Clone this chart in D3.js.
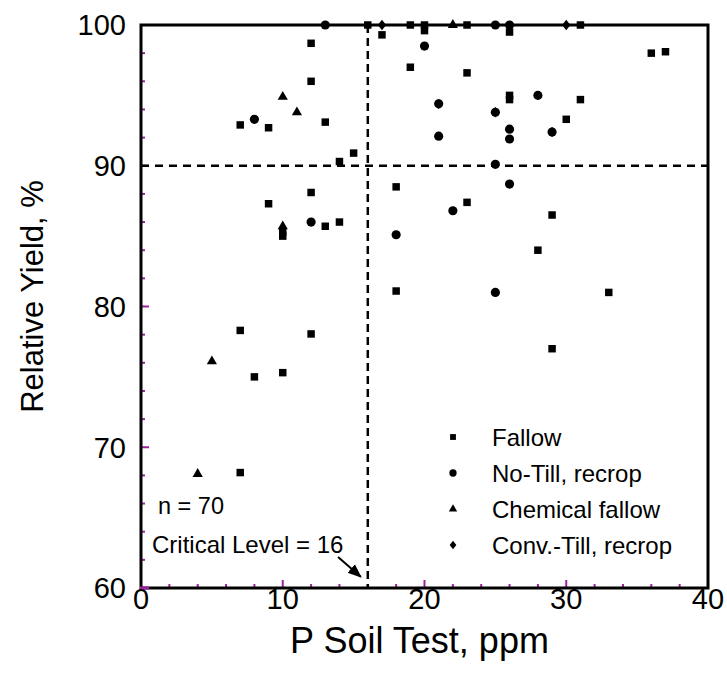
<!DOCTYPE html>
<html><head><meta charset="utf-8">
<script src="https://cdn.jsdelivr.net/npm/d3@7"></script>
<style>body{margin:0;background:#fff}text{font-family:"Liberation Sans",Arial,Helvetica,sans-serif;fill:#000}</style>
</head><body><svg id="c" width="727" height="677"></svg>
<script>
// Data: [P soil test (ppm), relative yield (%)]
const fallow = [[16,100],[17,99.3],[19,100],[20,100],[20,99.6],[12,98.7],[19,97],[12,96],[7,92.9],[9,92.7],[13,93.1],[15,90.9],[14,90.3],[18,88.5],[12,88.1],[9,87.3],[23,100],[26,99.5],[31,100],[23,96.6],[36,98],[37,98.1],[26,95],[26,94.7],[31,94.7],[30,93.3],[23,87.4],[10,85],[10,85.3],[13,85.7],[14,86],[18,81.1],[7,78.3],[12,78.05],[8,75],[10,75.3],[29,86.5],[28,84],[33,81],[29,77],[7,68.2]];
const noTill = [[13,100],[20,98.5],[8,93.3],[25,100],[26,100],[28,95],[21,94.4],[25,93.8],[26,92.6],[26,91.9],[29,92.4],[21,92.1],[25,90.1],[26,88.7],[22,86.8],[12,86],[18,85.1],[25,81]];
const chemFallow = [[10,94.9],[11,93.8],[22,100],[10,85.7],[5,76.1],[4,68.1]];
const convTill = [[17,100],[30,100],[21,94.4],[25,93.8],[29,92.4]];
const seriesNames = ["Fallow","No-Till, recrop","Chemical fallow","Conv.-Till, recrop"];
const xTicks = [0,10,20,30,40];
const yTicks = [60,70,80,90,100];
const criticalLevel = 16, yieldLine = 90;

const svg = d3.select("#c");
const x = d3.scaleLinear().domain([0,40]).range([141,708]);
const y = d3.scaleLinear().domain([60,100]).range([588,25]);
const tickCol = "#a020a0";

// diamond symbol
const diamond = {draw(ctx,size){const h=Math.sqrt(size)*0.62,w=h*0.8;ctx.moveTo(0,-h);ctx.lineTo(w,0);ctx.lineTo(0,h);ctx.lineTo(-w,0);ctx.closePath();}};
const types = [d3.symbolSquare,d3.symbolCircle,d3.symbolTriangle,diamond];
const sizes = [56,66,45,70];
const lsizes = [34,42,30,45];
const data = [fallow,noTill,chemFallow,convTill];

// minor/major ticks (inward)
const minorX = d3.range(0,41,2), minorY = d3.range(60,101,2);
svg.append("g").selectAll("line").data(minorY).join("line")
  .attr("x1",x(0)).attr("x2",d=>x(0)+(d%10===0?8:4)).attr("y1",d=>y(d)).attr("y2",d=>y(d))
  .attr("stroke",tickCol).attr("stroke-width",2);
svg.append("g").selectAll("line").data(minorX).join("line")
  .attr("y1",y(60)).attr("y2",d=>y(60)-(d%10===0?8:4)).attr("x1",d=>x(d)).attr("x2",d=>x(d))
  .attr("stroke",tickCol).attr("stroke-width",2);

// dashed reference lines
svg.append("line").attr("x1",x(0)).attr("x2",x(40)).attr("y1",y(yieldLine)).attr("y2",y(yieldLine))
  .attr("stroke","#000").attr("stroke-width",2.5).attr("stroke-dasharray","8,6");
svg.append("line").attr("x1",x(criticalLevel)).attr("x2",x(criticalLevel)).attr("y1",y(100)).attr("y2",y(60))
  .attr("stroke","#000").attr("stroke-width",2.5).attr("stroke-dasharray","8,5");

// frame
svg.append("rect").attr("x",x(0)).attr("y",y(100)).attr("width",x(40)-x(0)).attr("height",y(60)-y(100))
  .attr("fill","none").attr("stroke","#000").attr("stroke-width",3);
svg.append("line").attr("x1",x(0)-1).attr("x2",x(0)+8).attr("y1",y(60)).attr("y2",y(60)).attr("stroke",tickCol).attr("stroke-width",3);

// points
data.forEach((ser,i)=>{
  svg.append("g").selectAll("path").data(ser).join("path")
    .attr("d",d3.symbol().type(types[i]).size(sizes[i]))
    .attr("transform",d=>`translate(${x(d[0])},${y(d[1])})`).attr("fill","#000");
});

// tick labels
svg.append("g").selectAll("text").data(yTicks).join("text")
  .attr("x",x(0)-15).attr("y",d=>y(d)).attr("dy","0.36em").attr("text-anchor","end")
  .attr("font-size",29).text(d=>d);
svg.append("g").selectAll("text").data(xTicks).join("text")
  .attr("x",d=>x(d)).attr("y",y(60)+21).attr("text-anchor","middle")
  .attr("font-size",29).text(d=>d);

// axis titles
svg.append("text").attr("x",(x(0)+x(40))/2-5).attr("y",653).attr("text-anchor","middle").attr("font-size",36).text("P Soil Test, ppm");
svg.append("text").attr("transform",`translate(43,${(y(60)+y(100))/2-10}) rotate(-90)`).attr("text-anchor","middle").attr("font-size",31).text("Relative Yield, %");

// legend
const lg = svg.append("g");
seriesNames.forEach((n,i)=>{
  const ly = 437 + i*36;
  lg.append("path").attr("d",d3.symbol().type(types[i]).size(lsizes[i])).attr("transform",`translate(453,${ly})`).attr("fill","#000");
  lg.append("text").attr("x",492).attr("y",ly).attr("dy","0.36em").attr("font-size",24).text(n);
});

// annotations
svg.append("text").attr("x",158).attr("y",514).attr("font-size",23.5).text("n = 70");
svg.append("text").attr("x",152).attr("y",553).attr("font-size",24).text("Critical Level = 16");
svg.append("defs").append("marker").attr("id","ah").attr("viewBox","0 0 10 10").attr("refX",9).attr("refY",5)
  .attr("markerWidth",7).attr("markerHeight",7).attr("orient","auto")
  .append("path").attr("d","M0,1L10,5L0,9z").attr("fill","#000");
svg.append("line").attr("x1",x(13.9)).attr("y1",y(62.2)).attr("x2",x(15.5)).attr("y2",y(60.8))
  .attr("stroke","#000").attr("stroke-width",2).attr("marker-end","url(#ah)");
</script></body></html>
